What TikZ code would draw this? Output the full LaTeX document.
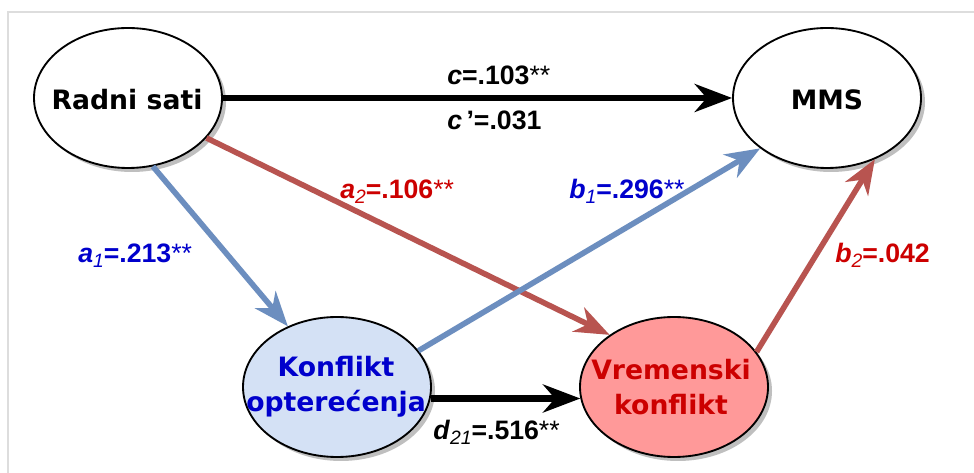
\documentclass[tikz,border=0pt]{standalone}
\usepackage{fontspec}
\setmainfont{Liberation Sans}
\newfontfamily\nodefont{DejaVu Sans}
\usetikzlibrary{arrows.meta,shapes.geometric,shadows}
\definecolor{blueline}{HTML}{6C8EBF}
\definecolor{redline}{HTML}{B85450}
\definecolor{bluetext}{HTML}{0000CC}
\definecolor{redtext}{HTML}{CC0000}
\definecolor{kofill}{HTML}{D4E1F5}
\definecolor{vkfill}{HTML}{FF9999}
\definecolor{framegray}{HTML}{DDDDDD}
\newcommand{\lbsub}[1]{\raisebox{-0.3ex}{\fontsize{14.5}{14.5}\selectfont\textit{#1}}}
\begin{document}
\begin{tikzpicture}[x=0.75pt,y=-0.75pt,
  oval/.style={ellipse, draw=black, line width=1.4pt, minimum width=141pt, minimum height=105pt, inner sep=0pt,
    drop shadow={shadow xshift=3pt, shadow yshift=-3pt, opacity=0.45, fill=black!55}},
  ntext/.style={font=\nodefont\bfseries\fontsize{20}{26}\selectfont, align=center, inner sep=0pt},
  lab/.style={anchor=base west, inner sep=0pt, font=\fontsize{20}{22}\selectfont},
  arr/.style={line width=4.2pt, -{Stealth[length=26pt,width=20pt,inset=8pt]}},
  barr/.style={line width=4.5pt, black, -{Stealth[length=28pt,width=21pt,inset=9pt]}}
]
\useasboundingbox (0,0) rectangle (974,473);
\fill[white] (0,0) rectangle (974,473);
% frame
\coordinate (f1) at (8,473);
\coordinate (f2) at (8,12);
\coordinate (f3) at (974,12);
\draw[framegray, line width=1.2pt] (f1) -- (f2) -- (f3);

% ellipses
\node[oval, fill=white] (rs) at (128,98) {};
\node[oval, fill=white] (mms) at (827,98) {};
\node[oval, fill=kofill] (ko) at (337,387) {};
\node[oval, fill=vkfill] (vk) at (674,387) {};

% connectors
\draw[barr] (rs.east) -- (mms.west);
\draw[arr, blueline] (rs.-70) -- (ko.129);
\draw[arr, redline] (rs.-27) -- (vk.141);
\draw[arr, blueline] (ko.24) -- (mms.-143);
\draw[arr, redline] (vk.23) -- (mms.-52);
\draw[barr] (ko.-7) -- (vk.187);

% node texts
\node[ntext] (rst) at (127,100) {Radni sati};
\node[ntext] (mmst) at (827,100) {MMS};
\node[ntext, text=bluetext] (kot) at (336,387) {Konflikt\\optere\'cenja};
\node[ntext, text=redtext] (vkt) at (671,387) {Vremenski\\konflikt};

% labels
\node[lab] (lc) at (447,85) {\textbf{\textit{c}=.103}**};
\node[lab] (lcp) at (447,130) {\textbf{\textit{c}\,'=.031}};
\node[lab, text=redtext] (la2) at (340,199) {\textbf{\textit{a}}\lbsub{2}\textbf{=.106}**};
\node[lab, text=bluetext] (lb1) at (569,199) {\textbf{\textit{b}}\lbsub{1}\textbf{=.296}**};
\node[lab, text=bluetext] (la1) at (78,263) {\textbf{\textit{a}}\lbsub{1}\textbf{=.213}**};
\node[lab, text=redtext] (lb2) at (835,263) {\textbf{\textit{b}}\lbsub{2}\textbf{=.042}};
\node[lab] (ld) at (433,440) {\textbf{\textit{d}}\lbsub{21}\textbf{=.516}**};
\end{tikzpicture}
\end{document}
